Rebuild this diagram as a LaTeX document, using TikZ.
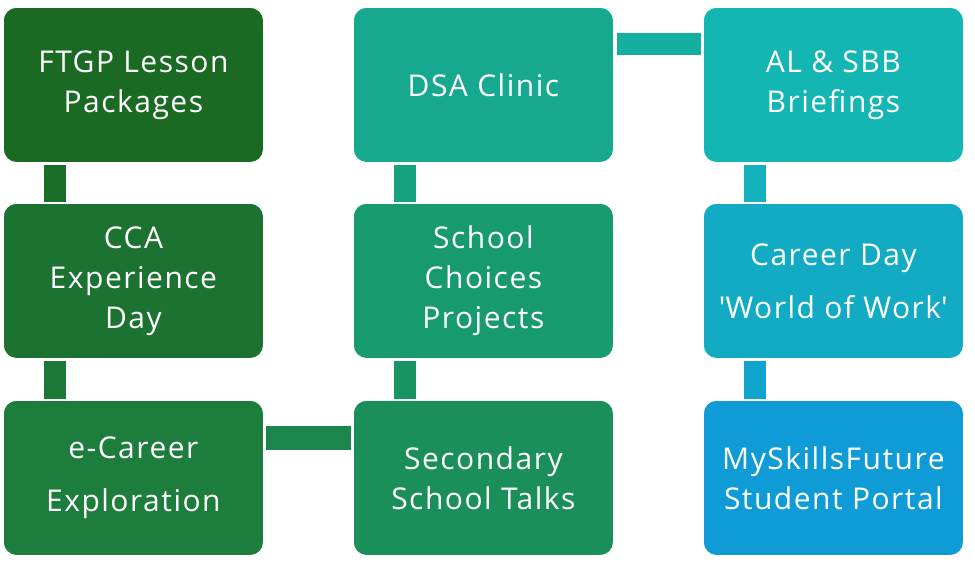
\documentclass[tikz,border=0pt]{standalone}
\usepackage{fontspec}
\setmainfont{Open Sans}[LetterSpace=5]
\usetikzlibrary{calc}
\definecolor{c1}{HTML}{1B6A24}
\definecolor{c2}{HTML}{1C7230}
\definecolor{c3}{HTML}{1C7D3C}
\definecolor{c4}{HTML}{1A8F5A}
\definecolor{c5}{HTML}{179A6E}
\definecolor{c6}{HTML}{17A98F}
\definecolor{c7}{HTML}{14B6B4}
\definecolor{c8}{HTML}{12ABC3}
\definecolor{c9}{HTML}{0E9BD6}
\begin{document}
\begin{tikzpicture}[x=1pt,y=-1pt,
  box/.style={draw=white, line width=0.8pt, rounded corners=13pt,
    minimum width=260pt, minimum height=155pt, anchor=north west,
    text=white, align=center, inner sep=0pt,
    font=\fontsize{30}{40}\selectfont},
  bar/.style={draw=white, line width=0.6pt}]
\useasboundingbox (0,0) rectangle (975,562);
\node[box, fill=c1] (n1) at (3,7) {FTGP Lesson\\Packages};
\node[box, fill=c2] (n2) at (3,203) {CCA\\Experience\\Day};
\node[box, fill=c3] (n3) at (3,400) {e-Career\\[13pt]Exploration};
\node[box, fill=c4] (n4) at (353,400) {Secondary\\School Talks};
\node[box, fill=c5] (n5) at (353,203) {School\\Choices\\Projects};
\node[box, fill=c6] (n6) at (353,7) {DSA Clinic};
\node[box, fill=c7] (n7) at (703,7) {AL \& SBB\\Briefings};
\node[box, fill=c8] (n8) at (703,203) {Career Day\\[13pt]\textquotesingle World of Work\textquotesingle};
\node[box, fill=c9] (n9) at (703,400) {MySkillsFuture\\Student Portal};
\fill[bar, fill=c1!50!c2] ($(n1.south west)+(40,1)$) rectangle ($(n2.north west)+(63,-1)$);
\fill[bar, fill=c2!50!c3] ($(n2.south west)+(40,1)$) rectangle ($(n3.north west)+(63,-1)$);
\fill[bar, fill=c3!50!c4] ($(n3.north east)+(1,25)$) rectangle ($(n4.north west)+(-2,50)$);
\fill[bar, fill=c4!50!c5] ($(n5.south west)+(40,1)$) rectangle ($(n4.north west)+(63,-1)$);
\fill[bar, fill=c5!50!c6] ($(n6.south west)+(40,1)$) rectangle ($(n5.north west)+(63,-1)$);
\fill[bar, fill=c6!50!c7] ($(n6.north east)+(2,25)$) rectangle ($(n7.north west)+(-2,48)$);
\fill[bar, fill=c7!50!c8] ($(n7.south west)+(40,1)$) rectangle ($(n8.north west)+(63,-1)$);
\fill[bar, fill=c8!50!c9] ($(n8.south west)+(40,1)$) rectangle ($(n9.north west)+(63,-1)$);
\end{tikzpicture}
\end{document}
